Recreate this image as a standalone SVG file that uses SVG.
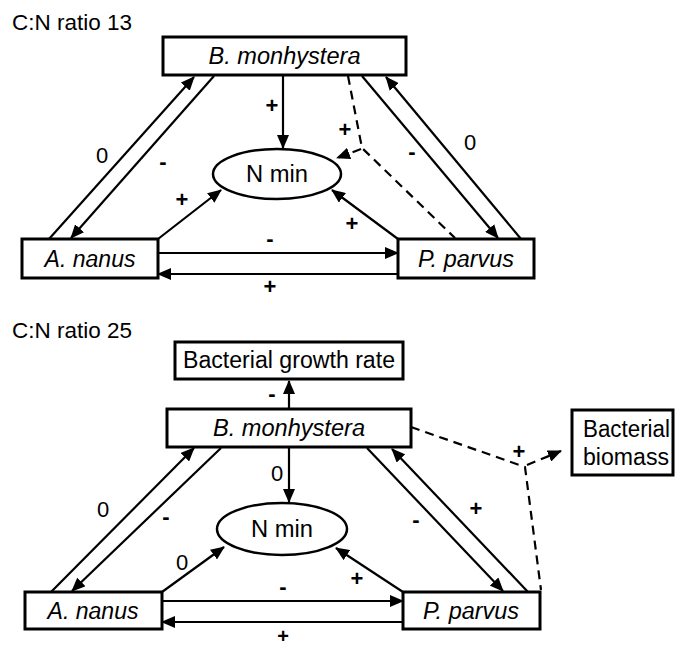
<svg xmlns="http://www.w3.org/2000/svg" width="675" height="649" viewBox="0 0 675 649">
<defs>
<marker id="ah" markerUnits="userSpaceOnUse" markerWidth="14" markerHeight="12" refX="13" refY="6" orient="auto">
<path d="M0,0 L14,6 L0,12 z" fill="#000"/>
</marker>
</defs>
<style>
text{font-family:"Liberation Sans",Arial,sans-serif;fill:#000}
.title{font-size:22px}
.node{font-size:23.5px;text-anchor:middle}
.it{font-style:italic}
.lbl{font-size:22px;text-anchor:middle}
.sgn{font-size:22px;font-weight:bold;text-anchor:middle}
rect.box{fill:#fff;stroke:#000;stroke-width:3}
ellipse.nm{fill:#fff;stroke:#000;stroke-width:2.5}
.c line,.c path{stroke:#000;stroke-width:2.2;fill:none}
.c .a{marker-end:url(#ah)}
.c .d{stroke-dasharray:9,6}
</style>
<rect width="675" height="649" fill="#fff"/>

<text class="title" x="12" y="30" textLength="120" lengthAdjust="spacingAndGlyphs">C:N ratio 13</text>
<text class="title" x="12" y="338" textLength="120" lengthAdjust="spacingAndGlyphs">C:N ratio 25</text>

<g id="connectors-top" class="c">
<line class="a" x1="283" y1="76" x2="283" y2="148"/>
<line class="a" x1="49" y1="239" x2="194" y2="77"/>
<line class="a" x1="214" y1="76" x2="71" y2="238"/>
<line class="a" x1="362" y1="76" x2="498" y2="238"/>
<line class="a" x1="521" y1="239" x2="386" y2="77"/>
<path class="d" d="M348,76 L362,148 L455,238"/>
<line class="a d" x1="361" y1="149" x2="337" y2="158"/>
<line class="a" x1="158" y1="239" x2="221" y2="190"/>
<line class="a" x1="398" y1="239" x2="332" y2="190"/>
<line class="a" x1="158" y1="253" x2="398" y2="253"/>
<line class="a" x1="398" y1="274" x2="158" y2="274"/>
</g>
<g id="labels-top">
<text class="sgn" x="272" y="113">+</text>
<text class="lbl" x="102" y="163">0</text>
<text class="sgn" x="163" y="169">-</text>
<text class="lbl" x="470" y="150">0</text>
<text class="sgn" x="412" y="159">-</text>
<text class="sgn" x="345" y="137">+</text>
<text class="sgn" x="182" y="207">+</text>
<text class="sgn" x="352" y="231">+</text>
<text class="sgn" x="270" y="246">-</text>
<text class="sgn" x="270" y="294">+</text>
</g>

<g id="b-mon-13"><rect class="box" x="163" y="37" width="243" height="38"/><text class="node it" x="284.5" y="64" textLength="152" lengthAdjust="spacingAndGlyphs">B. monhystera</text></g>
<g id="nmin-13"><ellipse class="nm" cx="277" cy="174" rx="64" ry="25"/><text class="node" x="277" y="182" textLength="62" lengthAdjust="spacingAndGlyphs">N min</text></g>
<g id="a-nanus-13"><rect class="box" x="22" y="239" width="136" height="39"/><text class="node it" x="90" y="267" textLength="91" lengthAdjust="spacingAndGlyphs">A. nanus</text></g>
<g id="p-parvus-13"><rect class="box" x="398" y="239" width="136" height="39"/><text class="node it" x="466" y="267" textLength="96" lengthAdjust="spacingAndGlyphs">P. parvus</text></g>

<g id="connectors-bottom" class="c">
<line class="a" x1="289" y1="409" x2="289" y2="381"/>
<line class="a" x1="289" y1="448" x2="289" y2="502"/>
<line class="a" x1="51" y1="592" x2="194" y2="448"/>
<line class="a" x1="221" y1="448" x2="72" y2="591"/>
<line class="a" x1="367" y1="448" x2="503" y2="591"/>
<line class="a" x1="528" y1="592" x2="392" y2="449"/>
<line class="a" x1="162" y1="592" x2="224" y2="547"/>
<line class="a" x1="403" y1="592" x2="336" y2="548"/>
<line class="a" x1="162" y1="601" x2="403" y2="601"/>
<line class="a" x1="403" y1="622" x2="162" y2="622"/>
<path class="d" d="M411,427 L525,467 L541,590"/>
<line class="a d" x1="527" y1="465" x2="561" y2="451"/>
</g>
<g id="labels-bottom">
<text class="sgn" x="272" y="401">-</text>
<text class="lbl" x="277" y="481">0</text>
<text class="lbl" x="103" y="517">0</text>
<text class="sgn" x="166" y="524">-</text>
<text class="lbl" x="182" y="570">0</text>
<text class="sgn" x="416" y="527">-</text>
<text class="sgn" x="476" y="516">+</text>
<text class="sgn" x="357" y="586">+</text>
<text class="sgn" x="283" y="594">-</text>
<text class="sgn" x="283" y="643" style="font-size:20px">+</text>
<text class="sgn" x="519" y="459">+</text>
</g>

<g id="growth-rate"><rect class="box" x="175" y="342" width="228" height="37"/><text class="node" x="289" y="368" textLength="212" lengthAdjust="spacingAndGlyphs">Bacterial growth rate</text></g>
<g id="b-mon-25"><rect class="box" x="167" y="409" width="244" height="38"/><text class="node it" x="289" y="436" textLength="152" lengthAdjust="spacingAndGlyphs">B. monhystera</text></g>
<g id="nmin-25"><ellipse class="nm" cx="282" cy="529" rx="65" ry="26"/><text class="node" x="282" y="537" textLength="62" lengthAdjust="spacingAndGlyphs">N min</text></g>
<g id="a-nanus-25"><rect class="box" x="25" y="592" width="137" height="37"/><text class="node it" x="93" y="619" textLength="91" lengthAdjust="spacingAndGlyphs">A. nanus</text></g>
<g id="p-parvus-25"><rect class="box" x="403" y="592" width="137" height="37"/><text class="node it" x="471" y="619" textLength="96" lengthAdjust="spacingAndGlyphs">P. parvus</text></g>
<g id="biomass"><rect class="box" x="572" y="410" width="101" height="65"/><text class="node" x="583" y="437" style="text-anchor:start" textLength="87" lengthAdjust="spacingAndGlyphs">Bacterial</text><text class="node" x="583" y="465" style="text-anchor:start" textLength="86" lengthAdjust="spacingAndGlyphs">biomass</text></g>
</svg>
